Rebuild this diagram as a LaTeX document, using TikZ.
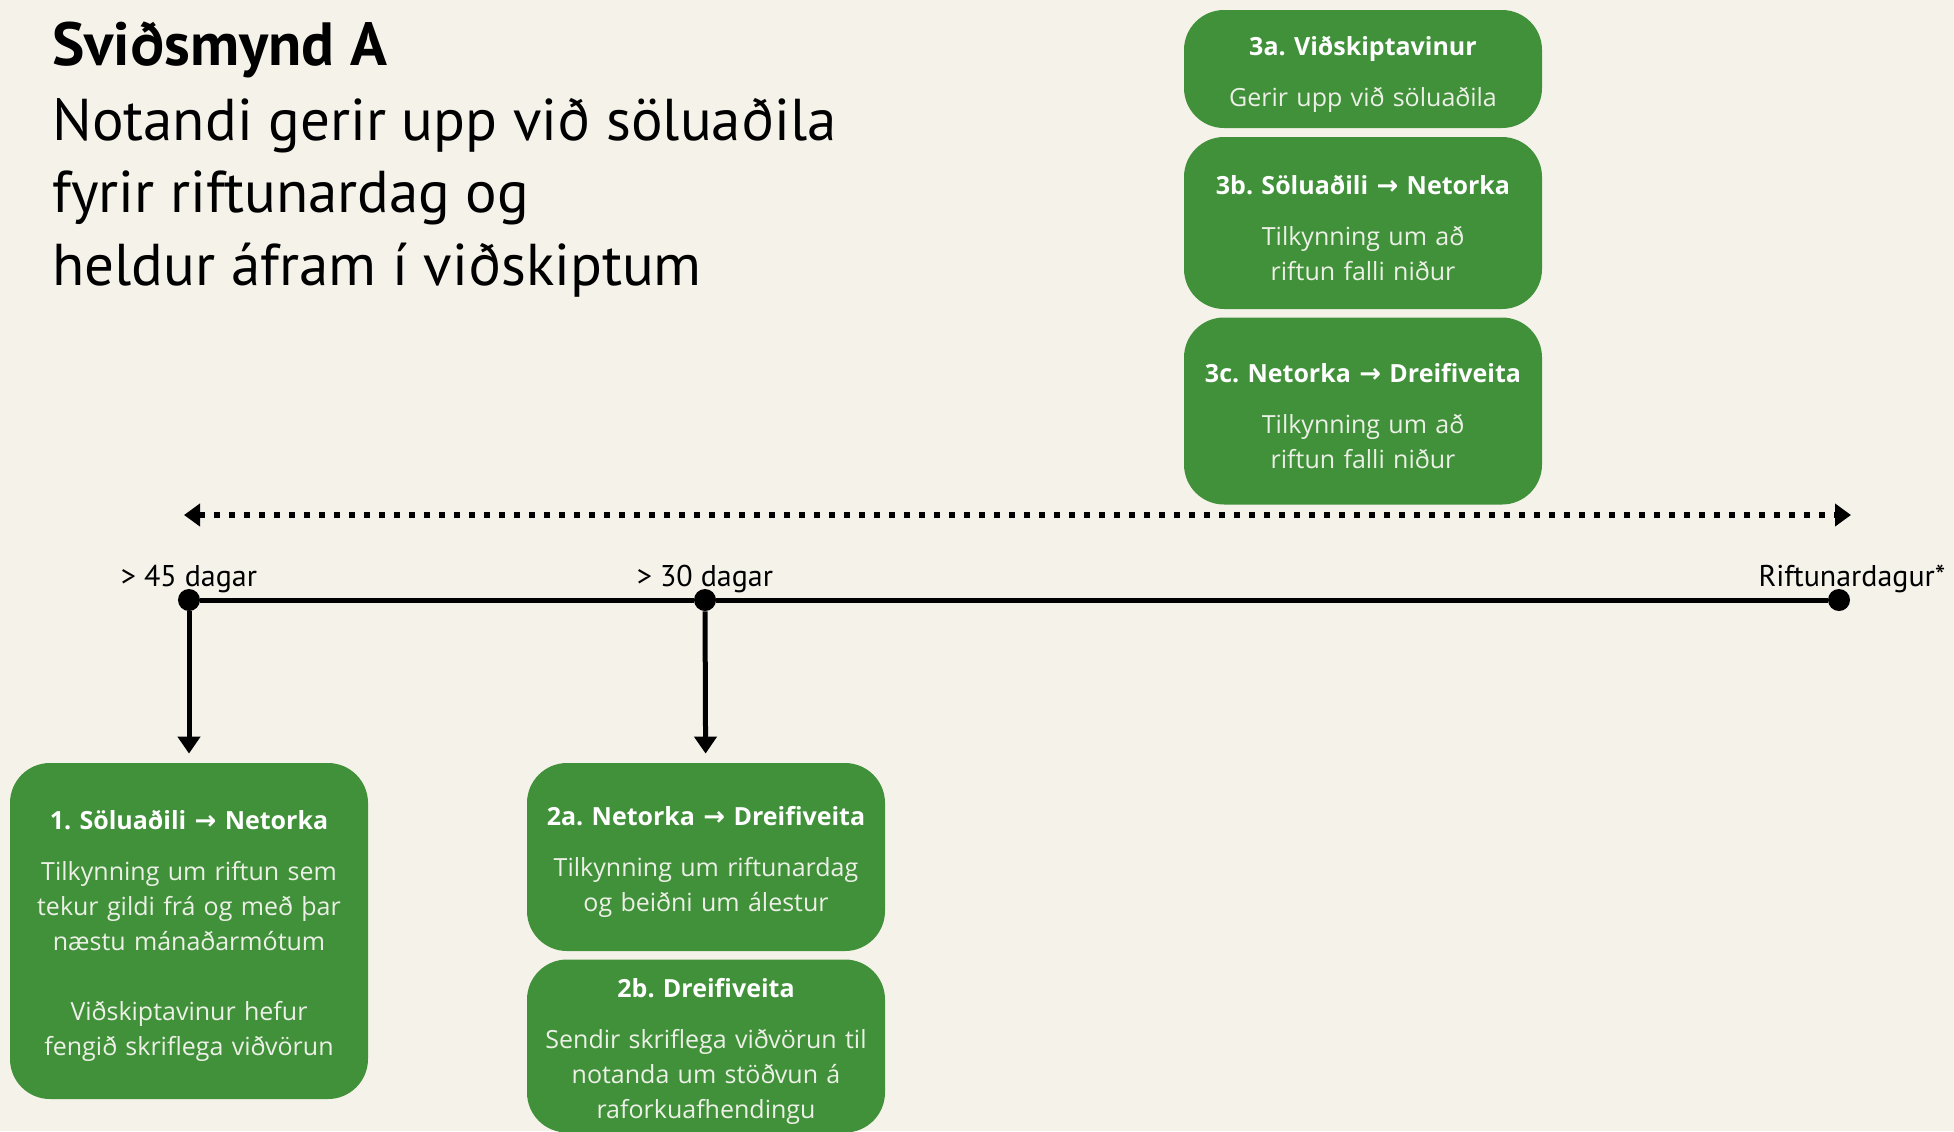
\documentclass[tikz,border=0pt]{standalone}
\usepackage{fontspec}
\setmainfont{Open Sans}
\newfontfamily\headfont{PT Sans}
\newfontfamily\arrowfont{DejaVu Sans}
\usetikzlibrary{arrows.meta}
\frenchspacing

\definecolor{bgcream}{RGB}{245,242,234}
\definecolor{boxgreen}{RGB}{64,145,58}
\definecolor{boxtext}{RGB}{236,240,230}

\newcommand{\arr}{{\arrowfont\fontsize{13}{13}\selectfont →}}
\newcommand{\boxhead}[1]{\rule{0pt}{14.5pt}{\bfseries\color{white}#1}\\[8pt]}

\tikzset{
  stepbox/.style={fill=boxgreen, rounded corners=20pt, text width=172pt, align=center,
    inner sep=0pt, minimum width=179pt, text=boxtext, font=\fontsize{12.5}{17.5}\selectfont},
  tick/.style={circle, fill=black, inner sep=0pt, minimum size=11pt},
  daylabel/.style={font=\headfont\fontsize{15}{17}\selectfont, anchor=base},
  downarr/.style={line width=2.5pt, -{Triangle[length=8.5pt,width=11pt]}, shorten >=4.5pt},
}

\begin{document}
\begin{tikzpicture}[x=0.5pt,y=-0.5pt]
  \fill[bgcream] (0,0) rectangle (1954,1131);
  \useasboundingbox (0,0) rectangle (1954,1131);

  \node[anchor=base west, inner sep=0pt, font=\headfont\bfseries\fontsize{30.5}{33}\selectfont] (title) at (52,65) {Sviðsmynd A};
  \node[anchor=base west, inner sep=0pt, font=\headfont\fontsize{29.5}{33}\selectfont] (sub1) at (52,140) {Notandi gerir upp við söluaðila};
  \node[anchor=base west, inner sep=0pt, font=\headfont\fontsize{29.5}{33}\selectfont] (sub2) at (52,212) {fyrir riftunardag og};
  \node[anchor=base west, inner sep=0pt, font=\headfont\fontsize{29.5}{33}\selectfont] (sub3) at (52,285) {heldur áfram í viðskiptum};

  \node[stepbox, minimum height=118pt/2] (s3a) at (1363,69) {\boxhead{3a. Viðskiptavinur}Gerir upp við söluaðila};
  \node[stepbox, minimum height=172pt/2] (s3b) at (1363,223) {\boxhead{3b. Söluaðili \arr{} Netorka}Tilkynning um að\\ riftun falli niður};
  \node[stepbox, minimum height=187pt/2] (s3c) at (1363,411) {\boxhead{3c. Netorka \arr{} Dreifiveita}Tilkynning um að\\ riftun falli niður};

  \coordinate (dl) at (184,515);
  \coordinate (dr) at (1851,515);
  \draw[line width=3pt, dash pattern=on 3pt off 4.5pt,
    {Triangle[length=8pt,width=11pt,sep=0pt]}-{Triangle[length=8pt,width=11pt]}] (dl) -- (dr);

  \node[tick] (d45) at (189,600) {};
  \node[tick] (d30) at (705,600) {};
  \node[tick] (dR) at (1839,600) {};
  \draw[line width=2.5pt] (d45) -- (d30) -- (dR);

  \node[daylabel] (l45) at (189,586) {> 45 dagar};
  \node[daylabel] (l30) at (705,586) {> 30 dagar};
  \node[daylabel] (lR) at (1852,586) {Riftunardagur*};

  \node[stepbox, minimum height=336pt/2] (s1) at (189,931) {\boxhead{1. Söluaðili \arr{} Netorka}Tilkynning um riftun sem\\ tekur gildi frá og með þar\\ næstu mánaðarmótum\\[17.5pt] Viðskiptavinur hefur\\ fengið skriflega viðvörun};
  \node[stepbox, minimum height=188pt/2] (s2a) at (706,857) {\boxhead{2a. Netorka \arr{} Dreifiveita}Tilkynning um riftunardag\\ og beiðni um álestur};
  \node[stepbox, minimum height=173pt/2] (s2b) at (706,1046) {\boxhead{2b. Dreifiveita}Sendir skriflega viðvörun til\\ notanda um stöðvun á\\ raforkuafhendingu};

  \draw[downarr] (d45) -- (s1);
  \draw[downarr] (d30) -- (s2a);
\end{tikzpicture}
\end{document}
